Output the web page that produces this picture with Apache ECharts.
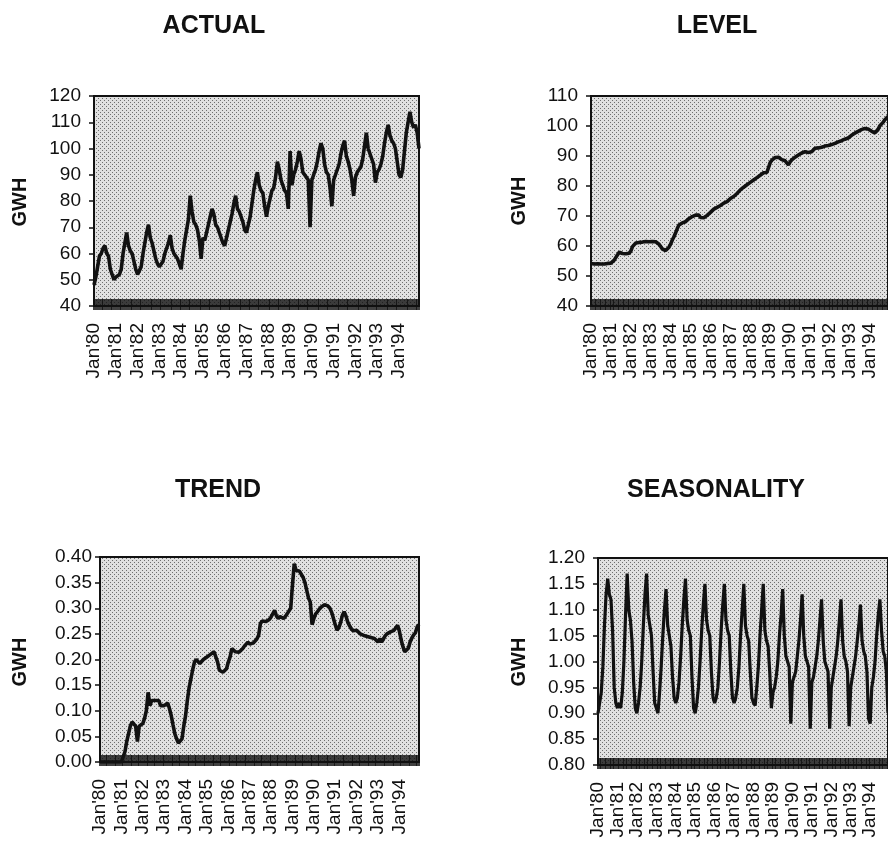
<!DOCTYPE html>
<html>
<head>
<meta charset="utf-8">
<script src="https://cdn.jsdelivr.net/npm/echarts@6/dist/echarts.min.js"></script>
<style>
  html, body { margin: 0; padding: 0; background: #ffffff; }
  #chart { width: 888px; height: 844px; }
</style>
</head>
<body>
<div id="chart"></div>
<script>
// Monthly categories, Jan 1980 .. Dec 1994
const yearCodes = ['80','81','82','83','84','85','86','87','88','89','90','91','92','93','94'];
const monthNames = ['Jan','Feb','Mar','Apr','May','Jun','Jul','Aug','Sep','Oct','Nov','Dec'];
const months = [];
yearCodes.forEach(function (y) { monthNames.forEach(function (m) { months.push(m + "'" + y); }); });

const panelTitles = ['ACTUAL', 'LEVEL', 'TREND', 'SEASONALITY'];
const unitLabel = 'GWH';

// Electricity consumption, GWH
const actual = [
  48, 51, 55, 59, 60, 62, 63, 60, 59, 54, 52, 50,
  51, 51, 52, 54, 60, 64, 68, 63, 61, 60, 57, 54,
  52, 52, 55, 60, 64, 68, 71, 66, 64, 61, 58, 56,
  55, 56, 57, 60, 62, 64, 67, 62, 60, 59, 58, 56,
  54, 60, 65, 69, 73, 82, 76, 72, 71, 69, 65, 58,
  66, 65, 68, 71, 74, 77, 75, 71, 70, 68, 66, 64,
  63, 66, 69, 72, 75, 79, 82, 77, 76, 74, 72, 69,
  68, 71, 74, 79, 84, 88, 91, 86, 84, 83, 78, 74,
  78, 81, 84, 85, 89, 95, 92, 88, 86, 84, 83, 77,
  99, 86, 90, 92, 95, 99, 96, 91, 90, 89, 88, 70,
  88, 90, 92, 95, 99, 102, 100, 94, 91, 90, 85, 78,
  88, 90, 92, 94, 98, 101, 103, 97, 95, 92, 88, 82,
  89, 91, 92, 93, 96, 101, 106, 100, 98, 96, 94, 87,
  91, 92, 94, 97, 102, 106, 109, 105, 103, 102, 100, 95,
  90, 89, 92, 99, 106, 110, 114, 110, 108, 109, 106, 100
];

// Smoothed level component
const level = [
  54.2, 54.1, 54.0, 54.0, 54.1, 54.0, 54.0, 54.1, 54.0, 54.1, 54.2, 54.2,
  54.3, 54.5, 55.3, 56.2, 57.1, 57.9, 58.0, 57.5, 57.0, 57.4, 58.0, 57.6,
  58.3, 59.8, 60.2, 61.0, 60.8, 61.2, 61.4, 61.3, 61.4, 61.5, 61.3, 61.4,
  61.4, 61.5, 61.3, 61.4, 61.2, 60.6, 59.8, 59.0, 58.6, 58.5, 58.8, 59.6,
  60.6, 62.0, 63.1, 64.4, 65.8, 67.0, 67.6, 67.7, 68.0, 68.1, 68.6, 69.1,
  69.5, 69.8, 70.0, 70.3, 70.4, 70.3, 69.5, 69.2, 69.4, 69.8, 70.2, 70.6,
  71.2, 71.8, 72.3, 72.6, 72.9, 73.1, 73.5, 73.9, 74.3, 74.6, 74.8, 75.3,
  75.8, 76.1, 76.5, 77.0, 77.5, 78.1, 78.7, 79.2, 79.6, 80.0, 80.4, 80.8,
  81.2, 81.6, 82.0, 82.5, 82.8, 83.2, 83.6, 84.1, 84.4, 84.3, 84.5, 85.0,
  87.8, 88.6, 89.2, 89.5, 89.8, 89.6, 89.2, 88.8, 88.7, 88.4, 87.8, 87.0,
  88.0, 88.7, 89.1, 89.6, 90.0, 90.3, 90.6, 91.0, 91.2, 91.4, 91.5, 91.2,
  91.0, 91.4, 92.0, 92.6, 92.8, 92.7, 93.0, 92.9, 93.1, 93.3, 93.4, 93.5,
  93.6, 93.8, 93.9, 94.2, 94.4, 94.7, 94.8, 95.1, 95.3, 95.6, 95.8, 96.0,
  96.4, 96.9, 97.3, 97.6, 97.9, 98.2, 98.5, 98.8, 99.1, 99.2, 99.3, 99.0,
  98.7, 98.3, 98.0, 97.7, 97.9, 98.8, 100.0, 100.6, 101.2, 102.0, 102.6, 103.2
];

// Trend component (GWH per month)
const trend = [
  0.000, 0.000, 0.000, 0.000, 0.000, 0.000, 0.000, 0.000, 0.000, 0.000, 0.000, 0.000,
  0.000, 0.002, 0.020, 0.040, 0.055, 0.070, 0.078, 0.075, 0.070, 0.040, 0.070, 0.070,
  0.075, 0.085, 0.100, 0.136, 0.110, 0.120, 0.122, 0.120, 0.118, 0.120, 0.110, 0.108,
  0.110, 0.108, 0.115, 0.104, 0.090, 0.072, 0.055, 0.045, 0.037, 0.035, 0.045, 0.070,
  0.090, 0.120, 0.145, 0.162, 0.180, 0.195, 0.200, 0.202, 0.192, 0.190, 0.200, 0.202,
  0.205, 0.205, 0.210, 0.212, 0.215, 0.212, 0.195, 0.179, 0.176, 0.175, 0.178, 0.182,
  0.195, 0.205, 0.221, 0.218, 0.215, 0.215, 0.214, 0.212, 0.221, 0.226, 0.230, 0.234,
  0.230, 0.228, 0.232, 0.234, 0.240, 0.247, 0.270, 0.275, 0.273, 0.274, 0.273, 0.278,
  0.283, 0.286, 0.296, 0.285, 0.280, 0.284, 0.286, 0.280, 0.284, 0.289, 0.292, 0.300,
  0.345, 0.387, 0.374, 0.372, 0.372, 0.371, 0.360, 0.350, 0.335, 0.320, 0.312, 0.268,
  0.280, 0.289, 0.293, 0.298, 0.302, 0.305, 0.307, 0.306, 0.304, 0.300, 0.292, 0.280,
  0.268, 0.257, 0.262, 0.272, 0.286, 0.293, 0.285, 0.273, 0.266, 0.260, 0.256, 0.254,
  0.257, 0.255, 0.250, 0.250, 0.247, 0.247, 0.245, 0.244, 0.243, 0.242, 0.241, 0.238,
  0.234, 0.241, 0.234, 0.240, 0.246, 0.250, 0.253, 0.254, 0.255, 0.257, 0.262, 0.267,
  0.255, 0.238, 0.225, 0.215, 0.212, 0.222, 0.234, 0.242, 0.248, 0.252, 0.264, 0.268
];

// Seasonal factors
const seasonality = [
  0.90, 0.92, 0.94, 0.99, 1.07, 1.13, 1.16, 1.13, 1.12, 1.06, 0.95, 0.92,
  0.91, 0.92, 0.91, 0.94, 1.00, 1.09, 1.17, 1.10, 1.08, 1.04, 0.96, 0.91,
  0.90, 0.92, 0.95, 1.00, 1.07, 1.13, 1.17, 1.09, 1.07, 1.05, 0.98, 0.92,
  0.91, 0.90, 0.94, 0.99, 1.05, 1.10, 1.14, 1.07, 1.05, 1.03, 0.97, 0.93,
  0.92, 0.93, 0.96, 1.01, 1.07, 1.12, 1.16, 1.08, 1.06, 1.05, 0.97, 0.91,
  0.90, 0.92, 0.95, 1.00, 1.06, 1.11, 1.15, 1.08, 1.06, 1.05, 0.98, 0.93,
  0.92, 0.93, 0.95, 1.00, 1.06, 1.11, 1.15, 1.08, 1.06, 1.05, 0.98, 0.93,
  0.92, 0.93, 0.95, 0.99, 1.05, 1.10, 1.15, 1.07, 1.05, 1.04, 0.98, 0.93,
  0.92, 0.915, 0.95, 0.99, 1.05, 1.10, 1.15, 1.06, 1.04, 1.03, 0.98, 0.91,
  0.94, 0.95, 0.97, 1.00, 1.05, 1.09, 1.14, 1.05, 1.01, 1.00, 0.99, 0.88,
  0.96, 0.97, 0.98, 1.01, 1.04, 1.08, 1.13, 1.05, 1.01, 1.00, 0.99, 0.87,
  0.96, 0.97, 0.99, 1.01, 1.04, 1.08, 1.12, 1.04, 1.00, 1.00, 0.98, 0.87,
  0.95, 0.97, 0.99, 1.01, 1.04, 1.08, 1.12, 1.04, 1.01, 1.00, 0.98, 0.875,
  0.95, 0.97, 0.99, 1.01, 1.04, 1.07, 1.11, 1.04, 1.02, 1.01, 0.98, 0.89,
  0.88, 0.95, 0.97, 1.00, 1.05, 1.09, 1.12, 1.06, 1.02, 1.01, 0.98, 0.90
];

// Axis ranges per panel
const yRanges = [
  { min: 40, max: 120, interval: 10, digits: 0 },
  { min: 40, max: 110, interval: 10, digits: 0 },
  { min: 0, max: 0.40, interval: 0.05, digits: 2 },
  { min: 0.80, max: 1.20, interval: 0.05, digits: 2 }
];
const seriesData = [actual, level, trend, seasonality];

// Panel boxes (pixels)
const boxes = [
  { left: 94,  top: 96,  width: 325, height: 210, labelGap: 13 },
  { left: 591, top: 96,  width: 298, height: 210, labelGap: 13 },
  { left: 100, top: 557, width: 319, height: 205, labelGap: 8 },
  { left: 598, top: 558, width: 297, height: 207, labelGap: 13 }
];
const titlePos = [[214, 26], [717, 26], [218, 490], [716, 490]];
const unitPos = [[20, 202], [519, 201], [20, 662], [519, 662]];

const FONT = '"Liberation Sans", Arial, Helvetica, sans-serif';
const INK = '#111111';

// Dotted halftone fill for the plot areas
function dotFill() {
  const c = document.createElement('canvas');
  c.width = 4; c.height = 4;
  const g = c.getContext('2d');
  g.fillStyle = '#e0e0e0'; g.fillRect(0, 0, 4, 4);
  g.fillStyle = '#6e6e6e';
  g.fillRect(0, 0, 1, 1); g.fillRect(2, 2, 1, 1);
  return { image: c, repeat: 'repeat' };
}
const plotFill = dotFill();

const grid = [], xAxis = [], yAxis = [], series = [], graphic = [];

boxes.forEach(function (b, i) {
  grid.push({
    left: b.left, top: b.top, width: b.width, height: b.height,
    show: true, backgroundColor: plotFill, borderColor: INK, borderWidth: 2
  });
  yAxis.push({
    type: 'value', gridIndex: i,
    min: yRanges[i].min, max: yRanges[i].max, interval: yRanges[i].interval,
    axisLine: { show: true, lineStyle: { color: INK, width: 2 } },
    axisTick: { show: true, length: 5, lineStyle: { color: INK, width: 1.5 } },
    splitLine: { show: false },
    axisLabel: {
      color: INK, fontSize: 19, fontFamily: FONT, margin: b.labelGap,
      formatter: (function (d) { return function (v) { return v.toFixed(d); }; })(yRanges[i].digits)
    }
  });
});

// Main category axes with year labels and outward monthly ticks
boxes.forEach(function (b, i) {
  xAxis.push({
    type: 'category', gridIndex: i, data: months, boundaryGap: false,
    axisLine: { show: true, lineStyle: { color: INK, width: 2 } },
    axisTick: { show: true, interval: 0, length: 4, lineStyle: { color: INK, width: 1.6 } },
    axisLabel: {
      interval: 11, rotate: 90, margin: 17,
      color: INK, fontSize: 19, fontFamily: FONT
    },
    splitLine: { show: false }
  });
});
// Overlay axes carrying the inward monthly ticks
boxes.forEach(function (b, i) {
  xAxis.push({
    type: 'category', gridIndex: i, data: months, boundaryGap: false, position: 'bottom',
    axisLine: { show: false },
    axisTick: { show: true, inside: true, interval: 0, length: 7, lineStyle: { color: INK, width: 1.6 } },
    axisLabel: { show: false },
    splitLine: { show: false }
  });
});

seriesData.forEach(function (d, i) {
  series.push({
    type: 'line', xAxisIndex: i, yAxisIndex: i, data: d,
    showSymbol: false, symbol: 'none',
    lineStyle: { color: INK, width: i === 3 ? 3.2 : 3.6 },
    z: 3
  });
});

panelTitles.forEach(function (t, i) {
  graphic.push({
    type: 'text', x: titlePos[i][0], y: titlePos[i][1],
    style: { text: t, fill: INK, font: 'bold 25px ' + FONT, align: 'center', verticalAlign: 'middle' }
  });
  graphic.push({
    type: 'text', x: unitPos[i][0], y: unitPos[i][1], rotation: Math.PI / 2,
    style: { text: unitLabel, fill: INK, font: 'bold 20px ' + FONT, align: 'center', verticalAlign: 'middle' }
  });
});

const chart = echarts.init(document.getElementById('chart'), null, { renderer: 'canvas' });
chart.setOption({
  animation: false,
  backgroundColor: '#ffffff',
  grid: grid,
  xAxis: xAxis,
  yAxis: yAxis,
  series: series,
  graphic: graphic
});
</script>
</body>
</html>
